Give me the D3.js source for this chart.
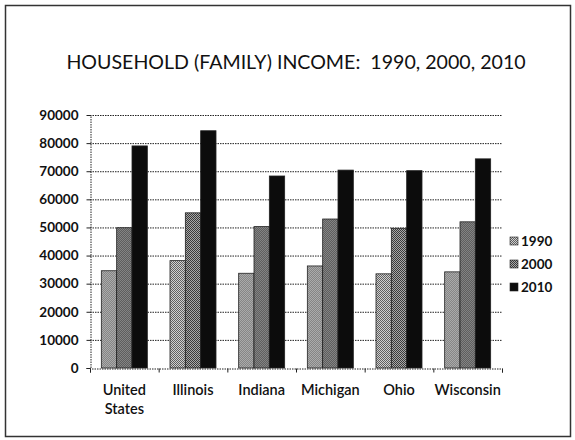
<!DOCTYPE html>
<html><head><meta charset="utf-8">
<script src="https://cdn.jsdelivr.net/npm/d3@7/dist/d3.min.js"></script>
<style>body{margin:0;background:#fff}svg{display:block}</style>
</head><body>
<svg id="c" width="575" height="440"></svg>
<script>
const categories = ["United States","Illinois","Indiana","Michigan","Ohio","Wisconsin"];
const series = ["1990","2000","2010"];
const values1990 = [34600, 38200, 33700, 36300, 33500, 34200];
const values2000 = [49900, 55200, 50300, 53000, 49700, 52000];
const values2010 = [79000, 84400, 68300, 70400, 70200, 74400];
const yTicks = [0,10000,20000,30000,40000,50000,60000,70000,80000,90000];
const title = "HOUSEHOLD (FAMILY) INCOME:  1990, 2000, 2010";

const svg = d3.select("#c");
const font = "Lato, 'Open Sans', sans-serif";
const defs = svg.append("defs");
function stipple(id, light, dark){
  const p = defs.append("pattern").attr("id", id).attr("width",2).attr("height",2).attr("patternUnits","userSpaceOnUse");
  p.append("rect").attr("width",2).attr("height",2).attr("fill",light);
  p.append("rect").attr("x",0).attr("y",0).attr("width",1).attr("height",1).attr("fill",dark);
  p.append("rect").attr("x",1).attr("y",1).attr("width",1).attr("height",1).attr("fill",dark);
}
stipple("p1990", "#d0d0d0", "#606060");
stipple("p2000", "#a8a8a8", "#3a3a3a");
const fills = {"1990":"url(#p1990)","2000":"url(#p2000)","2010":"#0c0c0c"};

// frame
svg.append("rect").attr("x",5.5).attr("y",5.5).attr("width",565).attr("height",431)
  .attr("fill","none").attr("stroke","#333").attr("stroke-width",1.5);

svg.append("text").attr("x",296).attr("y",69).attr("text-anchor","middle")
  .attr("xml:space","preserve").style("white-space","pre")
  .attr("font-family",font).attr("font-size",19.6).attr("fill","#111").text(title);

const x0 = d3.scaleBand().domain(categories).range([90,502]).paddingInner(0.33).paddingOuter(0.165);
const x1 = d3.scaleBand().domain(series).range([0,x0.bandwidth()]);
const y = d3.scaleLinear().domain([0,90000]).range([368,115]);

// gridlines
svg.append("g").selectAll("line").data(yTicks.slice(1)).join("line")
  .attr("x1",90).attr("x2",502).attr("y1",d=>y(d)+0.5).attr("y2",d=>y(d)+0.5)
  .attr("stroke","#222").attr("stroke-width",1).attr("stroke-dasharray","1.5,1");

// y axis
const ya = svg.append("g").attr("transform","translate(90.5,0)")
  .call(d3.axisLeft(y).tickValues(yTicks).tickSize(4).tickFormat(d3.format("d")));
ya.select(".domain").attr("stroke","#222").attr("stroke-dasharray","1.5,1");
ya.selectAll("line").attr("stroke","#222");
ya.selectAll("text").attr("font-family",font).attr("font-size",13.5).attr("font-weight",700).attr("fill","#111").attr("x",-12);

// bars
const data = categories.map((c,i)=>({cat:c, vals:[values1990[i],values2000[i],values2010[i]]}));
const g = svg.append("g").selectAll("g").data(data).join("g")
  .attr("transform",d=>`translate(${x0(d.cat)},0)`);
g.selectAll("rect").data(d=>series.map((s,j)=>({s, v:d.vals[j]}))).join("rect")
  .attr("x",d=>x1(d.s)).attr("width",x1.bandwidth()).attr("y",d=>y(d.v)).attr("height",d=>y(0)-y(d.v))
  .attr("fill",d=>fills[d.s]).attr("stroke","#222").attr("stroke-width",0.8);

// x axis
const xa = svg.append("g").attr("transform","translate(0,368.5)")
  .call(d3.axisBottom(d3.scalePoint().domain(d3.range(7)).range([90,502])).tickSize(4).tickFormat(""));
xa.select(".domain").attr("stroke","#222").attr("stroke-dasharray","1.5,1");
xa.selectAll("line").attr("stroke","#222");

// category labels
const lab = svg.append("g").selectAll("text").data(categories).join("text")
  .attr("x",d=>x0(d)+x0.bandwidth()/2).attr("y",395).attr("text-anchor","middle")
  .attr("font-family",font).attr("font-size",14.5).attr("font-weight",600).attr("fill","#111");
lab.each(function(d){
  const parts = d==="United States" ? ["United","States"] : [d];
  d3.select(this).selectAll("tspan").data(parts).join("tspan")
    .attr("x",x0(d)+x0.bandwidth()/2).attr("dy",(p,i)=>i?19:0).text(p=>p);
});

// legend
const lg = svg.append("g").selectAll("g").data(series).join("g")
  .attr("transform",(d,i)=>`translate(510,${237+i*23})`);
lg.append("rect").attr("width",8).attr("height",8).attr("fill",d=>fills[d]).attr("stroke","#222").attr("stroke-width",0.6);
lg.append("text").attr("x",11).attr("y",9).attr("font-family",font).attr("font-size",13.5).attr("font-weight",700)
  .attr("fill","#111").text(d=>d);
</script>
</body></html>
